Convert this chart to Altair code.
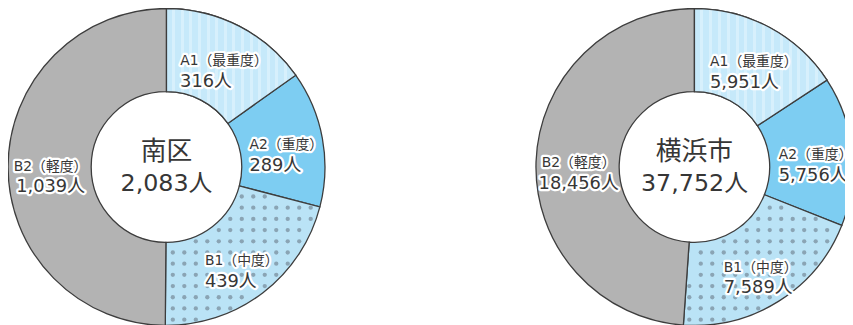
import math
import altair as alt
import pandas as pd

# ---- data ----
regions = ["南区", "横浜市"]
categories = ["A1", "A2", "B1", "B2"]
cat_names = ["A1（最重度）", "A2（重度）", "B1（中度）", "B2（軽度）"]
minami_values = [316, 289, 439, 1039]
yokohama_values = [5951, 5756, 7589, 18456]

rows = []
for region, vals in zip(regions, [minami_values, yokohama_values]):
    for i, (c, n, v) in enumerate(zip(categories, cat_names, vals)):
        rows.append(dict(region=region, cat=c, name=n, value=v, order=i))
df = pd.DataFrame(rows)

# ---- style / layout ----
CENTERS_X = [160, 693]
CY = 159
R_IN, R_OUT = 76, 160
RL = 120
TAU = 2 * math.pi
EDGE = "#3d3d3d"
TXT = "#363636"
FONT = "DejaVu Sans, Noto Sans CJK JP"
colors = ["#c6e9fa", "#7dcdf2", "#bae3f6", "#b3b3b3"]

stripe_stops = []
N = 15
for i in range(N):
    a, b, c = i / N, (i + 0.65) / N, (i + 1) / N
    stripe_stops += [
        alt.GradientStop(color="#c6e9fa", offset=a),
        alt.GradientStop(color="#c6e9fa", offset=b),
        alt.GradientStop(color="#d7f0fc", offset=b),
        alt.GradientStop(color="#d7f0fc", offset=c),
    ]
stripe_grad = alt.LinearGradient(gradient="linear", stops=stripe_stops, x1=0, x2=1, y1=0, y2=0)

X = lambda f: alt.X(f"{f}:Q", scale=None, axis=None)
Y = lambda f: alt.Y(f"{f}:Q", scale=None, axis=None)

base = (
    alt.Chart(df)
    .transform_joinaggregate(total="sum(value)", groupby=["region"])
    .transform_window(cum="sum(value)", sort=[alt.SortField("order")], frame=[None, 0],
                      groupby=["region"])
    .transform_calculate(
        t0="(datum.cum - datum.value) / datum.total",
        t1="datum.cum / datum.total",
        cx=f"datum.region == '{regions[0]}' ? {CENTERS_X[0]} : {CENTERS_X[1]}",
    )
)


def theta_enc(cx):
    return dict(
        theta=alt.Theta("t0:Q", stack=None, scale=alt.Scale(domain=[0, 1], range=[0, TAU])),
        theta2=alt.Theta2("t1:Q"),
        x=alt.value(cx),
        y=alt.value(CY),
    )


def text_pair(chart, text, x, y, align, size):
    halo = chart.mark_text(align=align, baseline="middle", fontSize=size, font=FONT,
                           fill="white", stroke="white", strokeWidth=4.5, strokeJoin="round").encode(
        text=text, x=x, y=y)
    fg = chart.mark_text(align=align, baseline="middle", fontSize=size, font=FONT,
                         fill=TXT).encode(text=text, x=x, y=y)
    return [halo, fg]


layers = []
for region, cx in zip(regions, CENTERS_X):
    rb = base.transform_filter(alt.datum.region == region)
    layers.append(
        rb.mark_arc(innerRadius=R_IN, outerRadius=R_OUT, stroke=EDGE, strokeWidth=1.3).encode(
            color=alt.Color("cat:N", scale=alt.Scale(domain=categories, range=colors), legend=None),
            **theta_enc(cx),
        )
    )
    layers.append(
        rb.transform_filter(alt.datum.cat == "A1").mark_arc(
            innerRadius=R_IN, outerRadius=R_OUT, stroke=EDGE, strokeWidth=1.3, fill=stripe_grad
        ).encode(**theta_enc(cx))
    )

dots = (
    base.transform_filter(alt.datum.cat == "B1")
    .transform_calculate(gx="sequence(0, 29)")
    .transform_flatten(["gx"])
    .transform_calculate(gy="sequence(0, 29)")
    .transform_flatten(["gy"])
    .transform_calculate(dx="datum.gx * 11.6 - 156", dy="datum.gy * 11.3 - 151")
    .transform_calculate(px="datum.cx + datum.dx", py=f"{CY} + datum.dy",
                         rr="sqrt(datum.dx*datum.dx + datum.dy*datum.dy)",
                         ang="atan2(datum.dx, -datum.dy)")
    .transform_calculate(ang2="datum.ang < 0 ? datum.ang + 2*PI : datum.ang")
    .transform_filter(
        f"datum.rr > {R_IN + 3} && datum.rr < {R_OUT - 3} && "
        "datum.ang2 > datum.t0*2*PI + 3/datum.rr && datum.ang2 < datum.t1*2*PI - 3/datum.rr"
    )
    .mark_circle(size=19, color="#8aa4b4", opacity=1)
    .encode(x=X("px"), y=Y("py"))
)
layers.append(dots)

lab = base.transform_calculate(
    mid="(datum.t0 + datum.t1) * PI",
    num="format(datum.value, ',') + '人'",
    asc="length(datum.name) - length(replace(datum.name, regexp('[A-Za-z0-9]', 'g'), ''))",
).transform_calculate(
    ax=f"datum.cx + {RL} * sin(datum.mid) + 3",
    ay=f"{CY} - {RL} * cos(datum.mid)",
    w1="datum.asc * 9.3 + (length(datum.name) - datum.asc) * 14",
).transform_calculate(lx2="datum.ax - datum.w1 / 2", ay2="datum.ay + 21")

layers += text_pair(lab, "name:N", X("ax"), Y("ay"), "center", 14)
layers += text_pair(lab.transform_filter(alt.datum.cat != "B2"), "num:N", X("lx2"), Y("ay2"), "left", 18)
layers += text_pair(lab.transform_filter(alt.datum.cat == "B2"), "num:N", X("ax"), Y("ay2"), "center", 18)

center = base.transform_filter(alt.datum.order == 0).transform_calculate(
    tot="format(datum.total, ',') + '人'", ty1=f"{CY - 15}", ty2=f"{CY + 17}")
layers.append(center.mark_text(fontSize=26, font=FONT, fill=TXT, baseline="middle").encode(
    text="region:N", x=X("cx"), y=Y("ty1")))
layers.append(center.mark_text(fontSize=24, font=FONT, fill=TXT, baseline="middle").encode(
    text="tot:N", x=X("cx"), y=Y("ty2")))

chart = (
    alt.layer(*layers)
    .properties(width=845, height=317, padding=0, autosize=alt.AutoSizeParams(type="none"))
    .configure_view(stroke=None)
)

chart.save("out.html", embed_options={"renderer": "svg", "actions": False})
